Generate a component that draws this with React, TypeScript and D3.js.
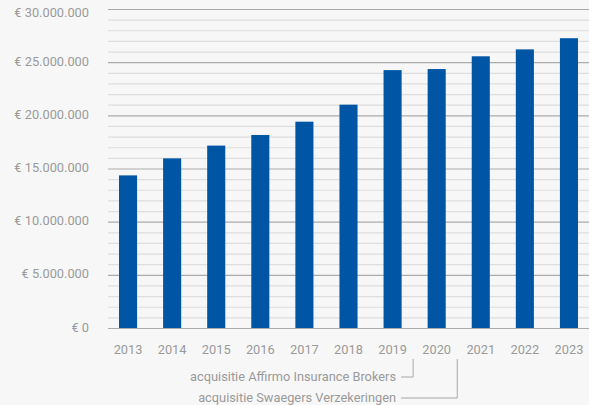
import React from "react";
import * as d3 from "d3";

const years = ["2013", "2014", "2015", "2016", "2017", "2018", "2019", "2020", "2021", "2022", "2023"];
const values = [14400000, 16000000, 17200000, 18200000, 19450000, 21050000, 24300000, 24400000, 25600000, 26250000, 27300000];
const majorTicks = [0, 5000000, 10000000, 15000000, 20000000, 25000000, 30000000];
const annotations = [
  { text: "acquisitie Affirmo Insurance Brokers", after: "2019" },
  { text: "acquisitie Swaegers Verzekeringen", after: "2020" },
];

const W = 589;
const H = 405;
const gridLeft = 108;

const fmt = (v: number) => "€ " + d3.format(",")(v).replace(/,/g, ".");

export default function App() {
  const x = d3.scaleBand<string>().domain(years).range([106, 591]).paddingInner(0.59).paddingOuter(0.295);
  const y = d3.scaleLinear().domain([0, 30000000]).range([328.5, 9.5]);
  const minor = d3.range(0, 30000001, 1000000).filter((v) => v % 5000000 !== 0);
  const textColor = "#9a9a9a";
  const font = "Roboto, 'Noto Sans', sans-serif";
  const fs = 12.8;
  return (
    <div style={{ position: "fixed", left: 0, top: 0, width: W, height: H, background: "#f7f7f7" }}>
      <svg width={W} height={H} style={{ display: "block" }} fontFamily={font}>
        <rect width={W} height={H} fill="#f7f7f7" />
        {minor.map((v) => (
          <line key={"m" + v} x1={gridLeft} x2={W} y1={y(v)} y2={y(v)} stroke="#dedede" strokeWidth={1.2} />
        ))}
        {majorTicks.map((v) => (
          <line key={"M" + v} x1={gridLeft} x2={W} y1={y(v)} y2={y(v)} stroke="#ababab" strokeWidth={1.2} />
        ))}
        {majorTicks.map((v) => (
          <text key={"t" + v} x={89} y={Math.max(y(v) - 1.5, 12)} textAnchor="end" dominantBaseline="central" fontSize={fs} fill={textColor}>
            {fmt(v)}
          </text>
        ))}
        {years.map((yr, i) => (
          <rect key={yr} x={x(yr)} y={y(values[i])} width={x.bandwidth()} height={y(0) - y(values[i])} fill="#0055a4" />
        ))}
        <line x1={gridLeft} x2={W} y1={y(0)} y2={y(0)} stroke="#ababab" strokeWidth={1.2} />
        {years.map((yr) => (
          <text key={"x" + yr} x={(x(yr) as number) + x.bandwidth() / 2} y={349} textAnchor="middle" dominantBaseline="central" fontSize={fs} fill={textColor}>
            {yr}
          </text>
        ))}
        {annotations.map((a, i) => {
          const gx = (x(a.after) as number) + x.bandwidth() + (x.step() - x.bandwidth()) / 2 - 1.5;
          const ly = 377 + i * 21;
          return (
            <g key={a.text}>
              <text x={396} y={ly - 1} textAnchor="end" dominantBaseline="central" fontSize={fs} fill={textColor}>
                {a.text}
              </text>
              <path d={`M401,${ly}H${gx}V359`} fill="none" stroke="#a8a8a8" strokeWidth={1} />
            </g>
          );
        })}
      </svg>
    </div>
  );
}
